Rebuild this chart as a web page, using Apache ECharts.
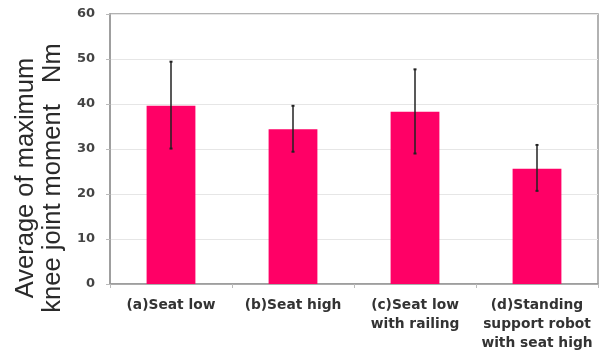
<!DOCTYPE html>
<html><head><meta charset="utf-8">
<script src="https://cdn.jsdelivr.net/npm/echarts@6/dist/echarts.min.js"></script>
<style>html,body{margin:0;padding:0;background:#fff}#c{width:600px;height:356px}</style>
</head><body><div id="c"></div>
<script>
const categories = ['(a)Seat low', '(b)Seat high', '(c)Seat low\nwith railing', '(d)Standing\nsupport robot\nwith seat high'];
const means = [39.6, 34.4, 38.3, 25.6];
const errLow = [30.1, 29.4, 29.0, 20.7];
const errHigh = [49.4, 39.6, 47.7, 30.9];
const yTicks = [0, 10, 20, 30, 40, 50, 60];
const yTitle = 'Average of maximum\nknee joint moment   Nm';

const chart = echarts.init(document.getElementById('c'));
chart.setOption({
  animation: false,
  grid: {left: 110, right: 2, top: 14, bottom: 72, show: true, borderColor: '#999', borderWidth: 1.5},
  graphic: [{
    type: 'text', x: 39, y: 178, rotation: Math.PI / 2,
    style: {text: yTitle, fill: '#2a2a2a', font: '25.5px "Liberation Sans"', lineHeight: 27,
      align: 'center', verticalAlign: 'middle'}
  }],
  xAxis: {
    type: 'category', data: categories,
    axisLine: {lineStyle: {color: '#999', width: 1.5}},
    axisTick: {show: true, length: 4, lineStyle: {color: '#bbb'}},
    axisLabel: {interval: 0, color: '#333', fontFamily: 'DejaVu Sans', fontWeight: 'bold', fontSize: 13.8, lineHeight: 19, margin: 12}
  },
  yAxis: {
    type: 'value', min: 0, max: 60, interval: 10,
    axisLine: {show: true, lineStyle: {color: '#999', width: 1.5}},
    axisTick: {show: true, length: 4, lineStyle: {color: '#bbb'}},
    splitLine: {lineStyle: {color: '#e6e6e6', width: 1.2}},
    axisLabel: {color: '#444', fontFamily: 'DejaVu Sans', fontWeight: 'bold', fontSize: 13, margin: 15,
      formatter: v => yTicks.includes(v) ? String(v) : ''}
  },
  series: [{
    type: 'bar', data: means, barWidth: '40%',
    itemStyle: {color: '#ff0066'}
  }, {
    type: 'custom',
    data: categories.map((c, i) => [i, errLow[i], errHigh[i]]),
    renderItem: (params, api) => {
      const lo = api.coord([api.value(0), api.value(1)]);
      const hi = api.coord([api.value(0), api.value(2)]);
      const st = {stroke: '#222', lineWidth: 1.5};
      return {type: 'group', children: [
        {type: 'line', shape: {x1: lo[0], y1: lo[1], x2: hi[0], y2: hi[1]}, style: st},
        {type: 'line', shape: {x1: lo[0]-1.5, y1: lo[1], x2: lo[0]+1.5, y2: lo[1]}, style: {stroke: '#222', lineWidth: 2}},
        {type: 'line', shape: {x1: hi[0]-1.5, y1: hi[1], x2: hi[0]+1.5, y2: hi[1]}, style: {stroke: '#222', lineWidth: 2}}
      ]};
    },
    z: 5
  }]
});
</script></body></html>
